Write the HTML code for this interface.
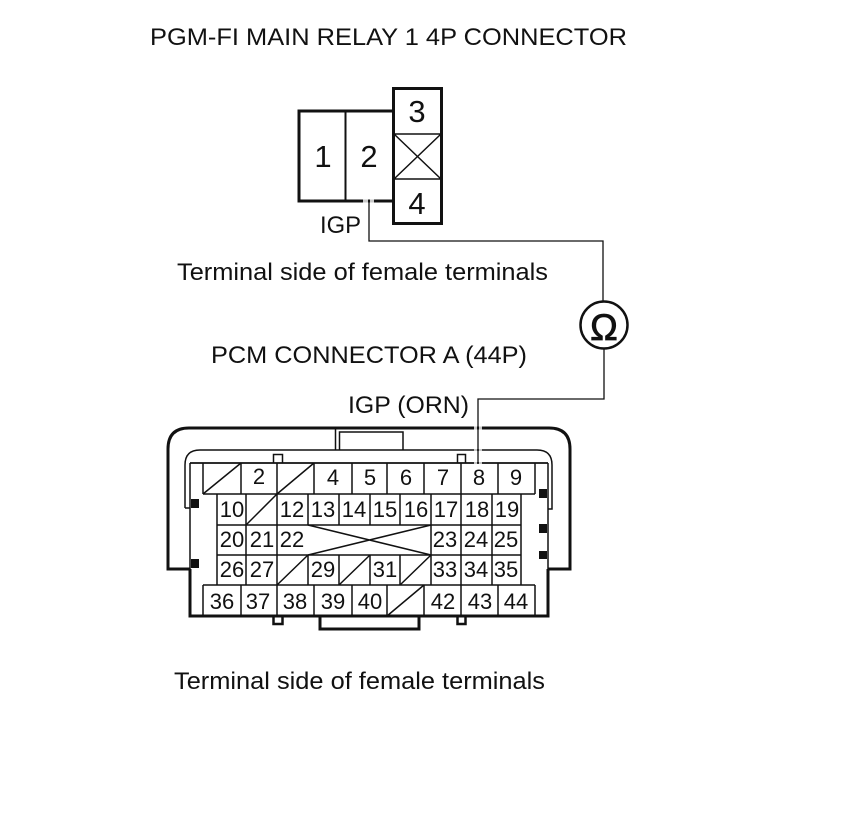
<!DOCTYPE html>
<html><head><meta charset="utf-8"><style>
html,body{margin:0;padding:0;background:#fff}
svg{display:block}
text{font-family:"Liberation Sans",sans-serif;fill:#111}
.t{font-size:24px}
.n{font-size:22px;text-anchor:middle}
.b{font-size:31px;text-anchor:middle}
</style></head><body>
<svg width="860" height="838" viewBox="0 0 860 838" xmlns="http://www.w3.org/2000/svg">
<rect width="860" height="838" fill="#fff"/>
<text class="t" x="150" y="45" textLength="477" lengthAdjust="spacingAndGlyphs">PGM-FI MAIN RELAY 1 4P CONNECTOR</text>
<text class="t" x="177" y="280" textLength="371" lengthAdjust="spacingAndGlyphs">Terminal side of female terminals</text>
<text class="t" x="211" y="363" textLength="316" lengthAdjust="spacingAndGlyphs">PCM CONNECTOR A (44P)</text>
<text class="t" x="348" y="413" textLength="121" lengthAdjust="spacingAndGlyphs">IGP (ORN)</text>
<text class="t" x="174" y="689" textLength="371" lengthAdjust="spacingAndGlyphs">Terminal side of female terminals</text>
<text class="t" x="320" y="233" textLength="41" lengthAdjust="spacingAndGlyphs">IGP</text>

<g fill="none" stroke="#111">
<path d="M393 111H299V201H393" stroke-width="3"/>
<path d="M345.500 111V201" stroke-width="2"/>
<rect x="393.500" y="88.500" width="48" height="135" stroke-width="3"/>
<path d="M393 134H441M393 179H441M394 134L441 179M441 134L394 179" stroke-width="1.500"/>
<path d="M369 202V241H603V302M604 348V399H478V463" stroke-width="1.300"/>
<circle cx="604" cy="325" r="23.500" stroke-width="2.500"/>

<path d="M190 569H168V449Q168 428 189 428H549Q570 428 570 449V569H548" stroke-width="3"/>
<path d="M190 569V616H548V569M320 617V629H419V617" stroke-width="3"/>
<path d="M190 463V569M548 463V569" stroke-width="1.500"/>
<path d="M185 508V465Q185 450 200 450H537Q552 450 552 465V509H548" stroke-width="1.500"/>
<path d="M185 508H190" stroke-width="1.500"/>
<path d="M335.500 428V450M339.500 450V432H403V450" stroke-width="1.500"/>
<path d="M273.500 463V454.500H282.500V463M457.500 463V454.500H465.500V463" stroke-width="1.500"/>
<path d="M273.500 617V624H282.500V617M457.500 617V624H465.500V617" stroke-width="2.500"/>
<path d="M190 463H548" stroke-width="1.800"/>
<path d="M203 494H535M217 525H521M217 555H521M203 585H535" stroke-width="1.600"/>
<path d="M203 463V494M241 463V494M277 463V494M314 463V494M352 463V494M387 463V494M424 463V494M461 463V494M498 463V494M535 463V494" stroke-width="1.500"/>
<path d="M217 494V585M246 494V585M277 494V555M277 555V585M308 494V525M308 555V585M339 494V525M339 555V585M370 494V525M370 555V585M400 494V525M400 555V585M431 494V585M461 494V585M492 494V585M521 494V585" stroke-width="1.500"/>
<path d="M203 585V616M241 585V616M277 585V616M314 585V616M352 585V616M387 585V616M424 585V616M461 585V616M498 585V616M535 585V616" stroke-width="1.500"/>
<path d="M203 494L241 463M277 494L314 463M246 525L277 494M277 585L308 555M339 585L370 555M400 585L431 555M387 616L424 585" stroke-width="1.500"/>
<path d="M308 525L431 555M308 555L431 525" stroke-width="1.500"/>
</g>

<g fill="#111">
<rect x="191" y="499" width="8" height="9"/>
<rect x="191" y="559" width="8" height="9"/>
<rect x="539" y="489" width="8" height="9"/>
<rect x="539" y="524" width="8" height="9"/>
<rect x="539" y="551" width="8" height="8"/>
</g>

<g fill="#c8c8c8">
<rect x="363" y="199.500" width="5" height="3"/>
<rect x="370" y="199.500" width="4" height="3"/>
<rect x="474" y="426.500" width="3" height="3"/>
<rect x="479" y="426.500" width="3" height="3"/>
<rect x="474" y="449" width="3" height="2"/>
<rect x="479" y="449" width="3" height="2"/>
<rect x="474" y="462" width="3" height="2"/>
<rect x="479" y="462" width="3" height="2"/>
</g>

<text class="b" x="323" y="167">1</text>
<text class="b" x="369" y="167">2</text>
<text class="b" x="417" y="122">3</text>
<text class="b" x="417" y="214">4</text>
<text x="604" y="340" stroke="#111" stroke-width="0.800" style="font-size:37px;text-anchor:middle">Ω</text>

<g>
<text class="n" x="259" y="484">2</text>
<text class="n" x="333" y="485">4</text>
<text class="n" x="370" y="485">5</text>
<text class="n" x="406" y="485">6</text>
<text class="n" x="443" y="485">7</text>
<text class="n" x="479" y="485">8</text>
<text class="n" x="516" y="485">9</text>

<text class="n" x="232" y="517">10</text>
<text class="n" x="292" y="517">12</text>
<text class="n" x="323" y="517">13</text>
<text class="n" x="354" y="517">14</text>
<text class="n" x="385" y="517">15</text>
<text class="n" x="416" y="517">16</text>
<text class="n" x="446" y="517">17</text>
<text class="n" x="477" y="517">18</text>
<text class="n" x="507" y="517">19</text>

<text class="n" x="232" y="547">20</text>
<text class="n" x="262" y="547">21</text>
<text class="n" x="292" y="547">22</text>
<text class="n" x="445" y="547">23</text>
<text class="n" x="476" y="547">24</text>
<text class="n" x="506" y="547">25</text>

<text class="n" x="232" y="577">26</text>
<text class="n" x="262" y="577">27</text>
<text class="n" x="323" y="577">29</text>
<text class="n" x="385" y="577">31</text>
<text class="n" x="445" y="577">33</text>
<text class="n" x="476" y="577">34</text>
<text class="n" x="506" y="577">35</text>

<text class="n" x="222" y="609">36</text>
<text class="n" x="258" y="609">37</text>
<text class="n" x="295" y="609">38</text>
<text class="n" x="333" y="609">39</text>
<text class="n" x="370" y="609">40</text>
<text class="n" x="443" y="609">42</text>
<text class="n" x="480" y="609">43</text>
<text class="n" x="516" y="609">44</text>
</g>
</svg>
</body></html>
